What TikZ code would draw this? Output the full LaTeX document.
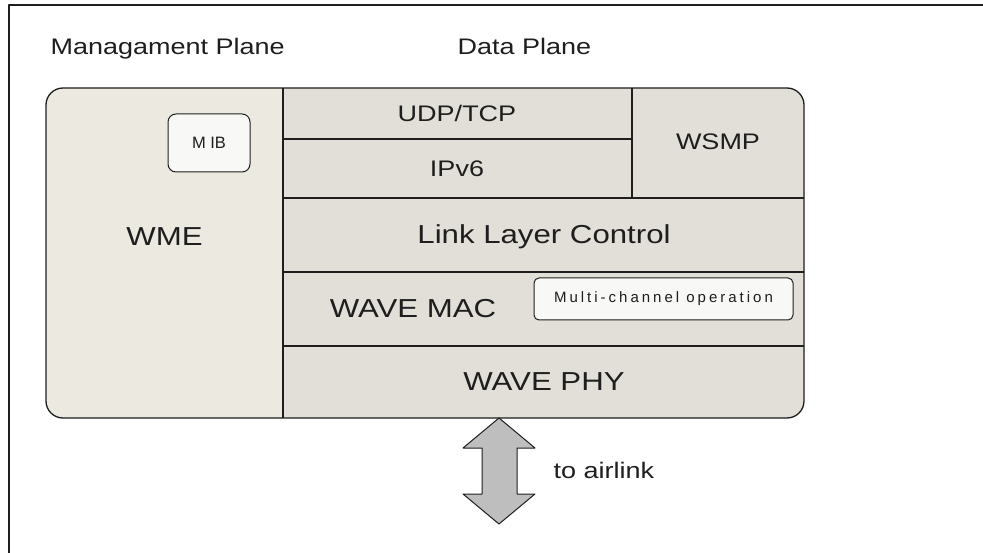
\documentclass[tikz,border=0pt]{standalone}
\usepackage{fontspec}
\setmainfont{Liberation Sans}[FakeStretch=1.2]
\newfontfamily\plainsans{Liberation Sans}

\definecolor{wmefill}{RGB}{236,234,224}
\definecolor{datafill}{RGB}{225,223,215}
\definecolor{boxfill}{RGB}{248,248,246}
\definecolor{arrowfill}{RGB}{190,190,190}
\definecolor{inkline}{RGB}{30,30,30}

\tikzset{
  bigtext/.style={anchor=base, text=inkline, font=\fontsize{26}{30}\selectfont},
  medtext/.style={anchor=base, text=inkline, font=\fontsize{22.5}{27}\selectfont},
  cellline/.style={draw=inkline, line width=1.2pt},
  smallbox/.style={draw=inkline, fill=boxfill, line width=1pt, inner sep=0pt,
                   text=inkline, font=\plainsans}
}

\begin{document}
\begin{tikzpicture}[
      x=1pt, y=-1pt, % one unit is one pixel, y runs down
      line join=round
  ]
\useasboundingbox (0,0) rectangle (983,553);

% page frame
\draw[inkline, line width=1.3pt] (9,553) -- (9,5) -- (983,5);

% plane titles
\node[medtext, anchor=base west] (mgmtplane) at (47,55) {Managament Plane};
\node[medtext, anchor=base west] (dataplane) at (454,55) {Data Plane};

% stack body
\fill[datafill, rounded corners=17] (46,88) rectangle (804,418);
\begin{scope}
  \clip (40,80) rectangle (283,425);
  \fill[wmefill, rounded corners=17] (46,88) rectangle (804,418);
\end{scope}

% layer borders
\foreach \y in {198,272,346}
  \draw[cellline] (283,\y) -- (804,\y);
\draw[cellline] (283,139) -- (632,139);
\draw[cellline] (632,88) -- (632,198);
\draw[inkline, line width=2.2pt] (283,88) -- (283,418);
\draw[inkline, line width=1.3pt, rounded corners=17] (46,88) rectangle (804,418);

% layer names
\node[bigtext] (wme) at (164.5,246) {WME};
\node[medtext] (udptcp) at (457,122) {UDP/TCP};
\node[medtext] (ipv6) at (457,177) {IPv6};
\node[medtext] (wsmp) at (718,150) {WSMP};
\node[bigtext] (llc) at (544,244) {Link Layer Control};
\node[bigtext] (wavemac) at (413,318) {WAVE MAC};
\node[bigtext] (wavephy) at (544,391) {WAVE PHY};

% inner blocks
\node[smallbox, rounded corners=8, minimum width=82, minimum height=58,
      font=\plainsans\fontsize{16.5}{20}\selectfont] (mib) at (209,143) {M IB};
\node[smallbox, rounded corners=5, minimum width=259, minimum height=42,
      font=\plainsans\fontsize{15}{18}\selectfont\addfontfeature{LetterSpace=20}]
      (multich) at (663.5,299) {Multi-channel operation};

% air interface
\draw[inkline, fill=arrowfill, line width=1pt]
  (499,418) -- (535,448) -- (517,448) -- (517,494) -- (535,494) -- (499,524)
  -- (463,494) -- (482,494) -- (482,448) -- (463,448) -- cycle;
\node[medtext, anchor=base west] (airlink) at (550,478) {to airlink};

\end{tikzpicture}
\end{document}
